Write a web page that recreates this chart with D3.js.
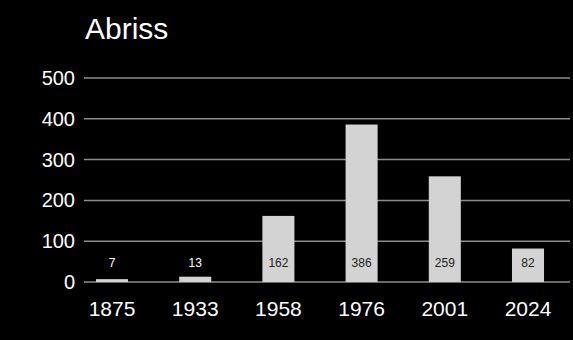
<!DOCTYPE html>
<html lang="de">
<head>
<meta charset="UTF-8">
<title>Abriss</title>
<script src="https://cdnjs.cloudflare.com/ajax/libs/d3/7.8.5/d3.min.js"></script>
<style>
  * { margin: 0; padding: 0; }
  body { background: #000; width: 573px; height: 340px; overflow: hidden; }
  svg text { font-family: "Liberation Sans", Arial, sans-serif; }
</style>
</head>
<body>
<svg id="chart" width="573" height="340"></svg>
<script>
  var years = ['1875', '1933', '1958', '1976', '2001', '2024'];
  var values = [7, 13, 162, 386, 259, 82];
  var yTicks = [0, 100, 200, 300, 400, 500];

  var width = 573, height = 340;
  var plotLeft = 84, plotRight = 570, plotTop = 78, plotBottom = 282;

  var svg = d3.select('#chart');
  svg.append('rect').attr('width', width).attr('height', height).attr('fill', '#000');

  var x = d3.scaleBand()
    .domain(years)
    .range([plotLeft, 556])
    .paddingInner(0.615)
    .paddingOuter(0.144);

  var y = d3.scaleLinear()
    .domain([0, 500])
    .range([plotBottom, plotTop]);

  // title
  svg.append('text')
    .attr('x', 85)
    .attr('y', 39)
    .attr('fill', '#fff')
    .attr('font-size', 30)
    .text('Abriss');

  // grid + y labels
  var yAxis = d3.axisLeft(y).tickValues(yTicks).tickSize(0).tickPadding(9);
  var yg = svg.append('g').attr('transform', 'translate(' + plotLeft + ',0)').call(yAxis);
  yg.select('.domain').remove();
  yg.selectAll('text').attr('fill', '#fff').attr('font-size', 20).attr('font-family', '"Liberation Sans", Arial, sans-serif');

  svg.append('g').selectAll('line')
    .data(yTicks)
    .enter()
    .append('line')
    .attr('x1', plotLeft)
    .attr('x2', plotRight)
    .attr('y1', function(d) { return y(d); })
    .attr('y2', function(d) { return y(d); })
    .attr('stroke', '#8c8c8c')
    .attr('stroke-width', 1.5);

  // bars
  svg.append('g').selectAll('rect')
    .data(values)
    .enter()
    .append('rect')
    .attr('x', function(d, i) { return x(years[i]); })
    .attr('y', function(d) { return y(d); })
    .attr('width', x.bandwidth())
    .attr('height', function(d) { return y(0) - y(d); })
    .attr('fill', '#d3d3d3');

  // value labels, all at same height
  var labelVal = 47;
  svg.append('g').selectAll('text')
    .data(values)
    .enter()
    .append('text')
    .attr('x', function(d, i) { return x(years[i]) + x.bandwidth() / 2; })
    .attr('y', y(labelVal))
    .attr('dy', '0.35em')
    .attr('text-anchor', 'middle')
    .attr('font-size', 12)
    .attr('fill', function(d) { return d > labelVal + 10 ? '#222' : '#fff'; })
    .text(function(d) { return d; });

  // x labels
  var xAxis = d3.axisBottom(x).tickSize(0).tickPadding(19);
  var xg = svg.append('g').attr('transform', 'translate(0,' + plotBottom + ')').call(xAxis);
  xg.select('.domain').remove();
  xg.selectAll('text').attr('fill', '#fff').attr('font-size', 21).attr('font-family', '"Liberation Sans", Arial, sans-serif');
</script>
</body>
</html>
